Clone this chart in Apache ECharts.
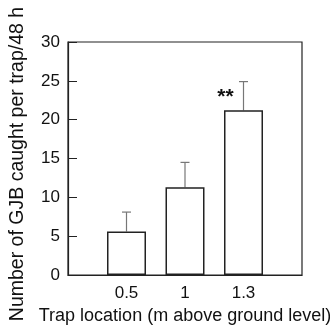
<!DOCTYPE html>
<html>
<head>
<meta charset="utf-8">
<script src="https://cdn.jsdelivr.net/npm/echarts@6/dist/echarts.min.js"></script>
<style>
  html, body { margin: 0; padding: 0; background: #fff; }
  #chart { width: 330px; height: 326px; }
</style>
</head>
<body>
<div id="chart"></div>
<script>
// trap heights (m above ground level)
const categories = ['0.5', '1', '1.3'];
// mean GJB caught per trap / 48 h
const means = [5.6, 11.3, 21.2];
// upper error (SE) above mean
const errors = [2.5, 3.2, 3.7];
const marks = ['', '', '**'];
const yTicks = [0, 5, 10, 15, 20, 25, 30];

const font = 'Liberation Sans, Arial, sans-serif';

const barData = categories.map((c, i) => [i + 1, means[i]]);
const errData = categories.map((c, i) => [i + 1, means[i], means[i] + errors[i]]);

const chart = echarts.init(document.getElementById('chart'));

chart.setOption({
  animation: false,
  grid: {
    left: 68,
    right: 28,
    top: 42,
    bottom: 51,
    containLabel: false,
    outerBoundsMode: 'none',
    show: true,
    borderColor: '#222',
    borderWidth: 1.2,
  },
  xAxis: {
    type: 'value',
    min: 0,
    max: categories.length + 1,
    interval: 1,
    splitLine: { show: false },
    axisTick: { show: false },
    axisLine: { lineStyle: { color: '#222', width: 1.2 } },
    axisLabel: {
      color: '#111',
      fontSize: 17,
      fontFamily: font,
      margin: 10,
      formatter: (v) => categories[v - 1] || '',
    },
    name: 'Trap location (m above ground level)',
    nameLocation: 'middle',
    nameGap: 29,
    nameTextStyle: { color: '#111', fontSize: 18, fontFamily: font },
  },
  yAxis: {
    type: 'value',
    min: yTicks[0],
    max: yTicks[yTicks.length - 1],
    interval: 5,
    splitLine: { show: false },
    axisLine: { show: true, lineStyle: { color: '#222', width: 1.2 } },
    axisTick: { show: true, inside: true, length: 9, lineStyle: { color: '#222' } },
    axisLabel: { color: '#111', fontSize: 17, fontFamily: font, margin: 8 },
    name: 'Number of GJB caught per trap/48 h',
    nameLocation: 'middle',
    nameGap: 40,
    nameTextStyle: { color: '#111', fontSize: 19.5, fontFamily: font, padding: [0, 11, 0, 0] },
  },
  series: [
    {
      type: 'bar',
      data: barData,
      barWidth: 39,
      itemStyle: { color: '#fff', borderColor: '#222', borderWidth: 1.5 },
      label: {
        show: true,
        position: 'top',
        offset: [-18, 2],
        color: '#111',
        fontSize: 21,
        fontWeight: 'bold',
        fontFamily: font,
        formatter: (p) => marks[p.dataIndex],
      },
      z: 2,
    },
    {
      type: 'custom',
      data: errData,
      z: 1,
      renderItem: (params, api) => {
        const base = api.coord([api.value(0), api.value(1)]);
        const top = api.coord([api.value(0), api.value(2)]);
        const half = 4.5;
        const style = { stroke: '#777', lineWidth: 1.2 };
        return {
          type: 'group',
          children: [
            { type: 'line', shape: { x1: base[0], y1: base[1], x2: top[0], y2: top[1] }, style },
            { type: 'line', shape: { x1: top[0] - half, y1: top[1], x2: top[0] + half, y2: top[1] }, style },
          ],
        };
      },
    },
  ],
});
</script>
</body>
</html>
